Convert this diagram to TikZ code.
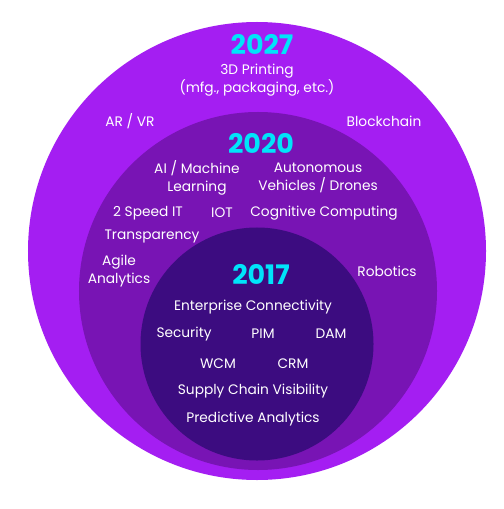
\documentclass[tikz,border=0pt]{standalone}
\usepackage{fontspec}
\setmainfont{Poppins}
\definecolor{ring2027}{RGB}{164,30,242}
\definecolor{ring2020}{RGB}{120,20,180}
\definecolor{ring2017}{RGB}{60,12,128}
\definecolor{yearcyan}{RGB}{0,228,250}

\begin{document}
\begin{tikzpicture}[x=1bp, y=-1bp,
  ring/.style={shape=circle, inner sep=0pt, draw=none},
  item/.style={text=white, font=\fontsize{13.8}{17.5}\selectfont, align=center, inner sep=0pt},
  year/.style={text=yearcyan, font=\fontsize{27}{28}\selectfont\bfseries, inner sep=0pt}]

\useasboundingbox[fill=white] (0,0) rectangle (504,509);

\node[ring, fill=ring2027, minimum size=458bp] (orbit1) at (257,251) {};
\node[ring, fill=ring2020, minimum size=358bp] (orbit2) at (258,291) {};
\node[ring, fill=ring2017, minimum size=233bp] (orbit3) at (257,344) {};

\node[year] (y1) at (262,44) {2027};
\node[item] (print) at (257,80) {3D Printing\\(mfg., packaging, etc.)};
\node[item] (arvr) at (130,121) {AR / VR};
\node[item] (chain) at (384,121) {Blockchain};

\node[year] (y2) at (261,143) {2020};
\node[item] (ai) at (197,178) {AI / Machine\\Learning};
\node[item] (auto) at (318,178) {Autonomous\\Vehicles / Drones};
\node[item] (speed) at (148,213) {2 Speed IT};
\node[item] (iot) at (222,213) {IOT};
\node[item] (cog) at (324,213) {Cognitive Computing};
\node[item] (trans) at (152,236) {Transparency};
\node[item] (agile) at (119,271) {Agile\\Analytics};
\node[item] (robot) at (387,271) {Robotics};

\node[year] (y3) at (261,274) {2017};
\node[item] (ent) at (253,307) {Enterprise Connectivity};
\node[item] (sec) at (184,334) {Security};
\node[item] (pim) at (263,334) {PIM};
\node[item] (dam) at (331,334) {DAM};
\node[item] (wcm) at (218,364) {WCM};
\node[item] (crm) at (293,364) {CRM};
\node[item] (supply) at (253,391) {Supply Chain Visibility};
\node[item] (pred) at (253,419) {Predictive Analytics};

\end{tikzpicture}
\end{document}
